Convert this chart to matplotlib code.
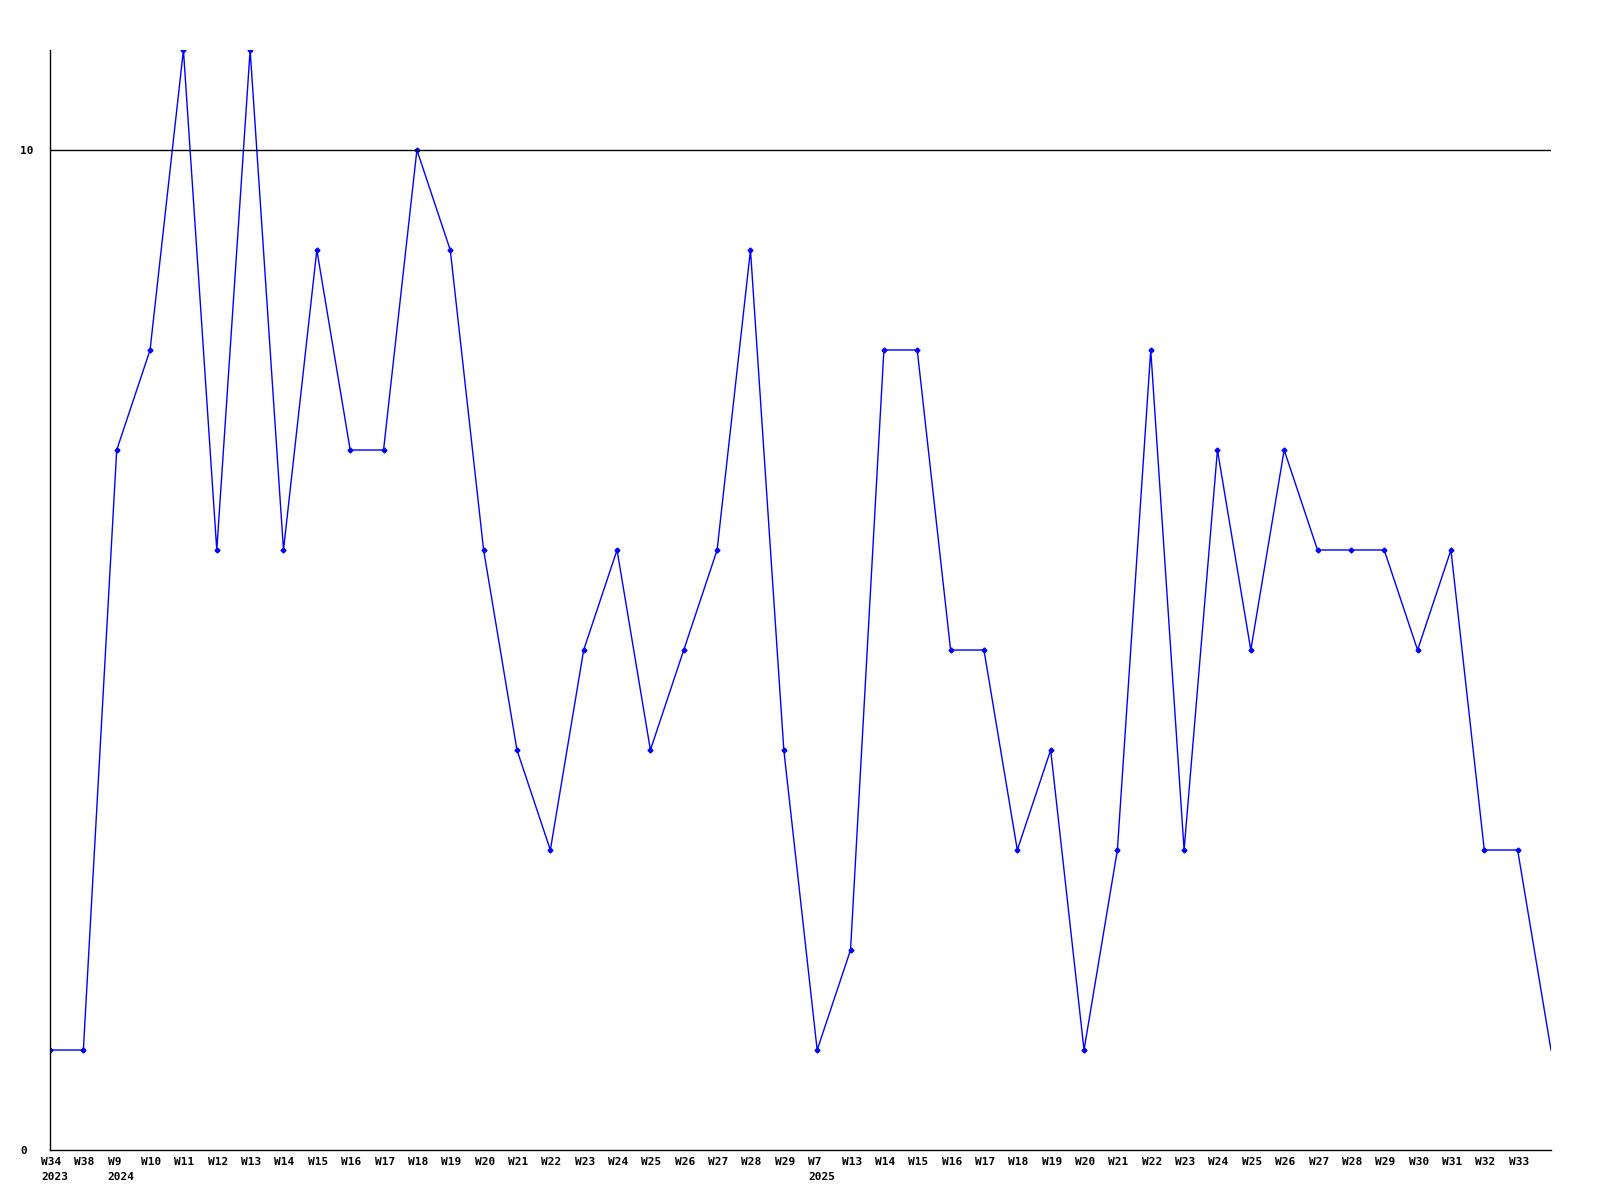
import matplotlib
matplotlib.use("Agg")
import matplotlib.pyplot as plt
from matplotlib.transforms import ScaledTranslation

weeks = ["W34", "W38", "W9", "W10", "W11", "W12", "W13", "W14", "W15", "W16", "W17",
         "W18", "W19", "W20", "W21", "W22", "W23", "W24", "W25", "W26", "W27", "W28",
         "W29", "W7", "W13", "W14", "W15", "W16", "W17", "W18", "W19", "W20", "W21",
         "W22", "W23", "W24", "W25", "W26", "W27", "W28", "W29", "W30", "W31", "W32",
         "W33", ""]
years = {0: "2023", 2: "2024", 23: "2025"}
values = [1, 1, 7, 8, 11, 6, 11, 6, 9, 7, 7,
          10, 9, 6, 4, 3, 5, 6, 4, 5, 6, 9,
          4, 1, 2, 8, 8, 5, 5, 3, 4, 1, 3,
          8, 3, 7, 5, 7, 6, 6, 6, 5, 6, 3,
          3, 1]

fig = plt.figure(figsize=(16, 12), dpi=100)
ax = fig.add_axes([50/1600, 1 - 1150/1200, (1551-50)/1600, (1150-50)/1200])
x = list(range(len(values)))
ax.plot(x, values, color="#0000ff", lw=1.0)
ax.plot(x[:-1], values[:-1], ls="none", marker="D", ms=2.5, color="#0000ff")
ax.axhline(10, color="black", lw=1.0)
ax.set_xlim(0, len(values) - 1)
ax.set_ylim(0, 11)
for s in ["top", "right"]:
    ax.spines[s].set_visible(False)
for s in ["left", "bottom"]:
    ax.spines[s].set_linewidth(1.0)

font = dict(family="DejaVu Sans Mono", weight="bold", size=8)
ax.set_yticks([0, 10])
ax.set_yticklabels(["0", "10"], ha="left", **font)
ax.tick_params(axis="y", length=0, pad=21.6)
labels = [w + ("\n" + years[i] if i in years else "") for i, w in enumerate(weeks)]
ax.set_xticks(x)
ax.set_xticklabels(labels, ha="left", va="top", linespacing=1.65, **font)
ax.tick_params(axis="x", length=0, pad=5)
off = ScaledTranslation(-9/100, 0, fig.dpi_scale_trans)
for lab in ax.get_xticklabels():
    lab.set_transform(lab.get_transform() + off)

fig.savefig("out.png", dpi=100, facecolor="white")
